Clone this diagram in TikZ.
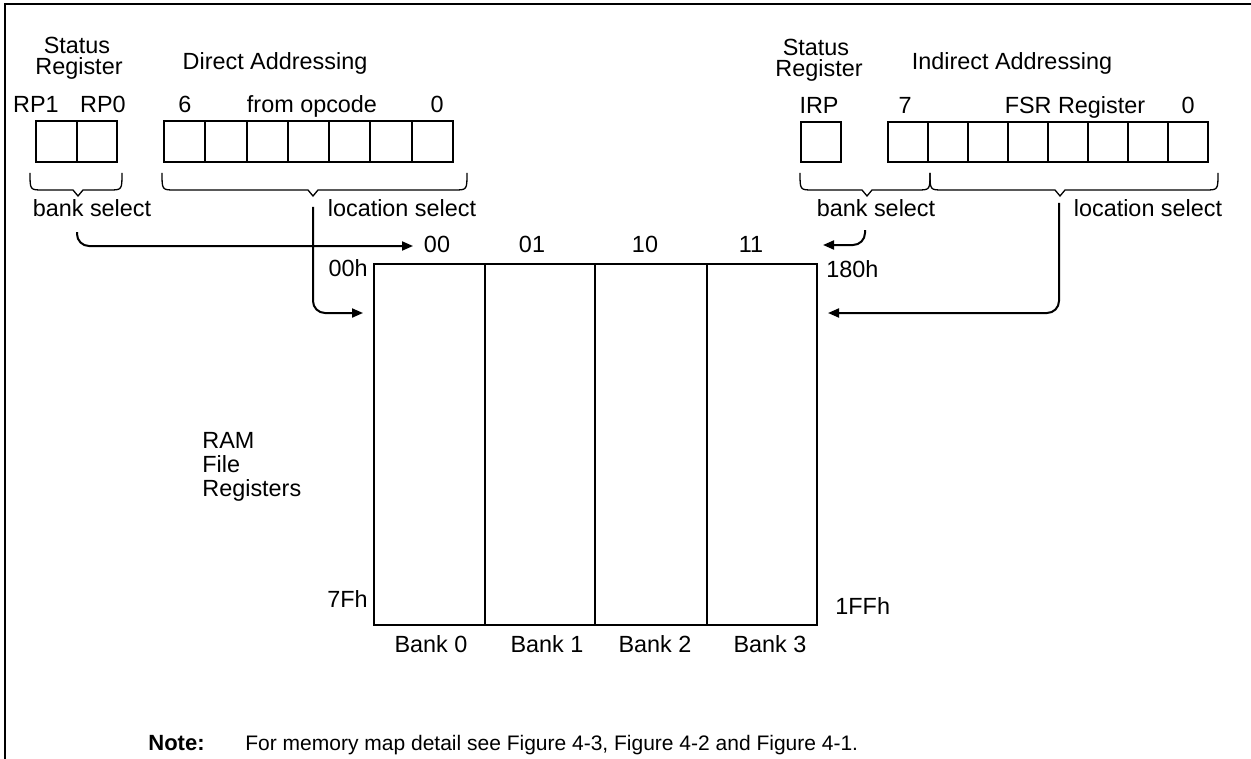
\documentclass[tikz,border=0pt]{standalone}
\usepackage{fontspec}
\setmainfont{Liberation Sans}
\usepackage{tikz}
\usetikzlibrary{arrows.meta}
\tikzstyle{arrow} = [line width=1pt,-{Triangle[length=5.5pt,width=4.5pt]},rounded corners=6pt]
\tikzstyle{lbl} = [inner sep=0pt, anchor=base, font=\fontsize{11.7}{14}\selectfont]
\tikzstyle{cell} = [line width=1pt]
\tikzstyle{selbrace} = [line width=0.65pt]
% brace under a register field: left end, tip, right end
\newcommand{\fieldbrace}[3]{%
  \draw[selbrace] (#1,173) .. controls (#1,190) .. (#1+13,190) -- (#2-5,190) -- (#2,196)
    -- (#2+5,190) -- (#3-13,190) .. controls (#3,190) .. (#3,173);}

\begin{document}
\begin{tikzpicture}[x=0.5pt,y=-0.5pt]
          \useasboundingbox (0,0) rectangle (1251,759);
          \draw[line width=1pt] (5,759) -- (5,4) -- (1251,4);

          % Direct addressing
          \node[lbl] (statA) at (77,54) {Status};
          \node[lbl] (regA) at (79,75) {Register};
          \node[lbl] (direct) at (275,70) {Direct Addressing};
          \node[lbl] (rp1) at (36,113) {RP1};
          \node[lbl] (rp0) at (103,113) {RP0};
          \node[lbl] (bit6) at (185,113) {6};
          \node[lbl] (opcode) at (312,113) {from opcode};
          \node[lbl] (bit0a) at (437,113) {0};
          \draw[cell] (36,121) rectangle (117,162);
          \draw[cell] (76.5,121) -- (76.5,162);
          \draw[cell] (164,121) rectangle (453,162);
          \foreach \i in {1,...,6} \draw[cell] (164+\i*41.29,121) -- (164+\i*41.29,162);
          \fieldbrace{30}{78}{122}
          \fieldbrace{162}{313}{467}
          \node[lbl] (bankA) at (92,217) {bank select};
          \node[lbl] (locA) at (402,217) {location select};

          % Indirect addressing
          \node[lbl] (statB) at (816,56) {Status};
          \node[lbl] (regB) at (819,77) {Register};
          \node[lbl] (indirect) at (1012,70) {Indirect Addressing};
          \node[lbl] (irp) at (819,114) {IRP};
          \node[lbl] (bit7) at (905,114) {7};
          \node[lbl] (fsr) at (1075,114) {FSR Register};
          \node[lbl] (bit0b) at (1188,114) {0};
          \draw[cell] (801,122) rectangle (841,162);
          \draw[cell] (888,122) rectangle (1208,162);
          \foreach \i in {1,...,7} \draw[cell] (888+\i*40,122) -- (888+\i*40,162);
          \fieldbrace{800}{867}{930}
          \fieldbrace{930}{1060}{1218}
          \node[lbl] (bankB) at (876,216) {bank select};
          \node[lbl] (locB) at (1148,216) {location select};

          % RAM banks
          \draw[cell] (374,264) rectangle (817,625);
          \foreach \x in {485,595,707} \draw[cell] (\x,264) -- (\x,625);
          \node[lbl] (sel00) at (437,252) {00};
          \node[lbl] (sel01) at (532,252) {01};
          \node[lbl] (sel10) at (645,252) {10};
          \node[lbl] (sel11) at (751,252) {11};
          \node[lbl, anchor=base east] (a00h) at (368,276) {00h};
          \node[lbl, anchor=base west] (a180h) at (826,277) {180h};
          \node[lbl, anchor=base east] (a7fh) at (368,607) {7Fh};
          \node[lbl, anchor=base west] (a1ffh) at (835,614) {1FFh};
          \node[lbl] (bank0) at (431,652) {Bank 0};
          \node[lbl] (bank1) at (547,652) {Bank 1};
          \node[lbl] (bank2) at (655,652) {Bank 2};
          \node[lbl] (bank3) at (770,652) {Bank 3};
          \node[lbl, anchor=base west] (ram1) at (202,448) {RAM};
          \node[lbl, anchor=base west] (ram2) at (202,472) {File};
          \node[lbl, anchor=base west] (ram3) at (202,496) {Registers};

          % Edges
          \coordinate (bankAout) at (77,232);
          \coordinate (to00) at (413,246);
          \coordinate (locAout) at (313,207);
          \coordinate (toBank0) at (363,313);
          \coordinate (bankBout) at (865,230);
          \coordinate (to11) at (823,245);
          \coordinate (locBout) at (1059,203);
          \coordinate (toBank3) at (828,313);
          \draw[arrow] (bankAout) |- (to00);
          \draw[arrow] (locAout) |- (toBank0);
          \draw[arrow] (bankBout) |- (to11);
          \draw[arrow] (locBout) |- (toBank3);

          % Note
          \node[lbl, anchor=base west, font=\bfseries\fontsize{11}{13}\selectfont] (note) at (148,750) {Note:};
          \node[lbl, anchor=base west, font=\fontsize{10.5}{13}\selectfont] (notetext) at (245,750) {For memory map detail see Figure 4-3, Figure 4-2 and Figure 4-1.};

        \end{tikzpicture}
\end{document}
